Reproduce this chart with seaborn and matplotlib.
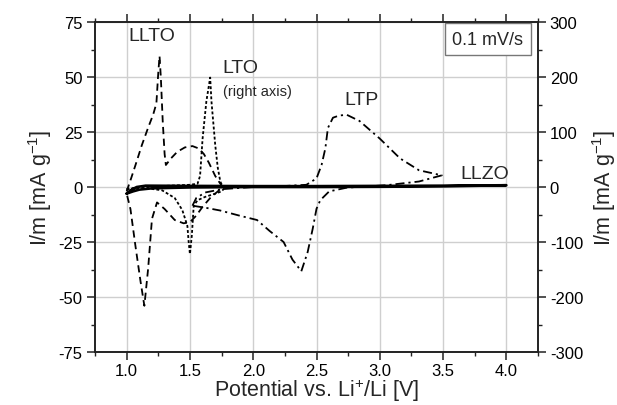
import matplotlib
matplotlib.use("Agg")
import matplotlib.pyplot as plt
import seaborn as sns
import pandas as pd
from matplotlib.ticker import MultipleLocator

# ---------------- data ----------------
llto_v = [1.00, 1.03, 1.07, 1.12, 1.17, 1.21, 1.235, 1.25, 1.26, 1.27, 1.285, 1.30, 1.31,
          1.35, 1.40, 1.46, 1.52, 1.57, 1.61, 1.65, 1.70, 1.74, 1.76,
          1.72, 1.66, 1.60, 1.55, 1.50, 1.45, 1.38, 1.30, 1.24, 1.20, 1.17, 1.14, 1.11, 1.07, 1.03, 1.00]
llto_i = [-2, 3, 10, 19, 27, 33, 38, 52, 59.5, 50, 30, 15, 10,
          13, 16, 18, 18.6, 17.5, 15, 11, 5, 1.5, 0,
          -2, -5, -9, -13, -16, -16.5, -15, -10, -7, -14.5, -37, -54, -43, -27, -10, -3]

# LTO on right axis
lto_v = [1.00, 1.10, 1.30, 1.50, 1.56, 1.58, 1.60, 1.63, 1.66, 1.67, 1.70, 1.72, 1.74, 1.76, 1.78,
         1.75, 1.70, 1.62, 1.56, 1.53, 1.515, 1.50, 1.49, 1.48, 1.44, 1.38, 1.28, 1.15, 1.00]
lto_i = [-4, 0, 2, 4, 6, 20, 88, 156, 199, 156, 76, 35, 10, 0, 0,
         -8, -12, -18, -24, -34, -88, -122, -100, -71, -42, -20, -6, -2, -4]

ltp_v = [1.52, 1.55, 1.62, 1.75, 2.00, 2.20, 2.42, 2.50, 2.54, 2.57, 2.59, 2.63, 2.68, 2.74, 2.84,
         3.00, 3.16, 3.31, 3.49,
         3.31, 3.05, 2.74, 2.60, 2.53, 2.50, 2.47, 2.43, 2.38, 2.31, 2.24, 2.13, 2.03, 1.89, 1.74,
         1.63, 1.52]
ltp_i = [-8.5, -5, -2.5, -1, 0, 0.3, 1, 3.9, 10, 17.6, 26.8, 31.5, 32.5, 32.8, 30,
         22, 13, 7.6, 5.3,
         2.5, 0.8, -0.3, -2, -6, -9.9, -19, -29.6, -38.3, -33, -25, -20, -15, -13, -10.7,
         -9.5, -8.5]

llzo_v = [1.00, 1.03, 1.08, 1.15, 1.5, 2.0, 2.5, 3.0, 3.5, 4.0,
          3.5, 3.0, 2.5, 2.0, 1.5, 1.2, 1.1, 1.05, 1.00]
llzo_i = [-3, -1.5, 0, 0.6, 0.5, 0.4, 0.4, 0.5, 0.6, 0.8,
          0.3, 0.1, 0, 0, -0.2, -0.6, -1.2, -2, -3]

xticks = [1.0, 1.5, 2.0, 2.5, 3.0, 3.5, 4.0]
yticks_left = [-75, -50, -25, 0, 25, 50, 75]
yticks_right = [-300, -200, -100, 0, 100, 200, 300]

# ---------------- plotting ----------------
sns.set_theme(style="ticks")
plt.rcParams["font.family"] = ["Liberation Sans", "DejaVu Sans"]
plt.rcParams["mathtext.fontset"] = "custom"
plt.rcParams["mathtext.rm"] = "Liberation Sans"
plt.rcParams["mathtext.it"] = "Liberation Sans:italic"
plt.rcParams["axes.unicode_minus"] = False

fig = plt.figure(figsize=(6.17, 4.06), dpi=100)
ax = fig.add_axes([95/617, 1-353/406, (538-95)/617, (353-23)/406])
ax2 = ax.twinx()

df_llto = pd.DataFrame({"V": llto_v, "I": llto_i})
df_lto = pd.DataFrame({"V": lto_v, "I": lto_i})
df_ltp = pd.DataFrame({"V": ltp_v, "I": ltp_i})
df_llzo = pd.DataFrame({"V": llzo_v, "I": llzo_i})

lw = 1.3
sns.lineplot(data=df_llto, x="V", y="I", sort=False, estimator=None, ax=ax,
             color="black", lw=lw, linestyle=(0, (4, 2.5)))
sns.lineplot(data=df_ltp, x="V", y="I", sort=False, estimator=None, ax=ax,
             color="black", lw=lw, linestyle=(0, (5, 2.2, 1.2, 2.2)))
sns.lineplot(data=df_llzo, x="V", y="I", sort=False, estimator=None, ax=ax,
             color="black", lw=1.9, linestyle="-")
sns.lineplot(data=df_lto, x="V", y="I", sort=False, estimator=None, ax=ax2,
             color="black", lw=lw, linestyle=(0, (1.6, 1.2)))

ax.set_xlim(0.75, 4.25)
ax.set_ylim(-75, 75)
ax2.set_ylim(-300, 300)
ax.set_xticks(xticks)
ax.set_yticks(yticks_left)
ax2.set_yticks(yticks_right)
ax.xaxis.set_minor_locator(MultipleLocator(0.25))
ax.yaxis.set_minor_locator(MultipleLocator(12.5))
ax2.yaxis.set_minor_locator(MultipleLocator(50))

ax.grid(True, which="major", color="#cfcfcf", lw=1.0)
ax.set_axisbelow(True)

for a in (ax, ax2):
    for s in a.spines.values():
        s.set_visible(True)
        s.set_color("#222222")
        s.set_linewidth(1.2)

ax.tick_params(axis="y", which="both", pad=3.5)
ax.tick_params(axis="both", which="both", direction="out", colors="#222222",
               labelsize=12, labelcolor="black", top=True, labeltop=False)
ax.tick_params(axis="x", which="both", pad=2.5)
ax.tick_params(axis="y", which="both", pad=3.5)
ax.tick_params(which="major", length=5.5, width=1.1)
ax.tick_params(which="minor", length=3, width=1.0)
ax2.tick_params(axis="y", which="both", direction="out", colors="#222222",
                labelsize=12, labelcolor="black", pad=3)
ax2.tick_params(axis="y", which="major", length=5.5, width=1.1)
ax2.tick_params(axis="y", which="minor", length=3, width=1.0)

ax.set_xlabel("Potential vs. Li$^{+}$/Li [V]", fontsize=15.5, labelpad=-1)
ax.set_ylabel("I/m [mA g$^{-1}$]", fontsize=15.5, labelpad=3)
ax2.set_ylabel("I/m [mA g$^{-1}$]", fontsize=15.5, labelpad=5, rotation=90)

ax.text(1.01, 68.8, "LLTO", fontsize=14, ha="left", va="center")
ax.text(1.76, 54.4, "LTO", fontsize=14, ha="left", va="center")
ax.text(1.76, 43.6, "(right axis)", fontsize=10.5, ha="left", va="center")
ax.text(2.72, 39.8, "LTP", fontsize=14, ha="left", va="center")
ax.text(3.64, 6.2, "LLZO", fontsize=14, ha="left", va="center")
ax.text(0.887, 0.948, "0.1 mV/s", transform=ax.transAxes, fontsize=13,
        ha="center", va="center",
        bbox=dict(boxstyle="square,pad=0.4", fc="white", ec="#777777", lw=1.0))

fig.savefig("out.png", dpi=100)
